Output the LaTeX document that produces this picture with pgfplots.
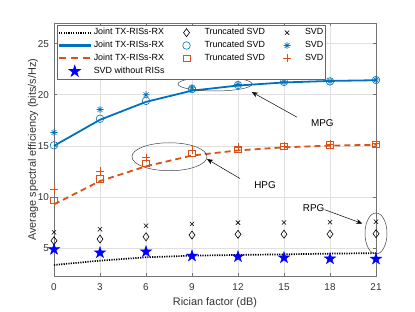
\documentclass[border=0pt]{standalone}
\usepackage{pgfplots}
\pgfplotsset{compat=1.18}
\usepackage{fontspec}
\setmainfont{Liberation Sans}
\usetikzlibrary{arrows.meta}
\definecolor{mblue}{rgb}{0,0.447,0.741}
\definecolor{morange}{rgb}{0.85,0.325,0.098}
\pgfdeclareplotmark{pentagram}{%
  \pgfpathmoveto{\pgfpointpolar{90}{\pgfplotmarksize}}%
  \pgfpathlineto{\pgfpointpolar{126}{0.382\pgfplotmarksize}}%
  \pgfpathlineto{\pgfpointpolar{162}{\pgfplotmarksize}}%
  \pgfpathlineto{\pgfpointpolar{198}{0.382\pgfplotmarksize}}%
  \pgfpathlineto{\pgfpointpolar{234}{\pgfplotmarksize}}%
  \pgfpathlineto{\pgfpointpolar{270}{0.382\pgfplotmarksize}}%
  \pgfpathlineto{\pgfpointpolar{306}{\pgfplotmarksize}}%
  \pgfpathlineto{\pgfpointpolar{342}{0.382\pgfplotmarksize}}%
  \pgfpathlineto{\pgfpointpolar{18}{\pgfplotmarksize}}%
  \pgfpathlineto{\pgfpointpolar{54}{0.382\pgfplotmarksize}}%
  \pgfpathclose\pgfusepathqfillstroke}
\pgfdeclareplotmark{ast8}{%
  \pgfpathmoveto{\pgfpoint{-\pgfplotmarksize}{0pt}}\pgfpathlineto{\pgfpoint{\pgfplotmarksize}{0pt}}%
  \pgfpathmoveto{\pgfpoint{0pt}{-\pgfplotmarksize}}\pgfpathlineto{\pgfpoint{0pt}{\pgfplotmarksize}}%
  \pgfpathmoveto{\pgfpoint{-.707\pgfplotmarksize}{-.707\pgfplotmarksize}}\pgfpathlineto{\pgfpoint{.707\pgfplotmarksize}{.707\pgfplotmarksize}}%
  \pgfpathmoveto{\pgfpoint{-.707\pgfplotmarksize}{.707\pgfplotmarksize}}\pgfpathlineto{\pgfpoint{.707\pgfplotmarksize}{-.707\pgfplotmarksize}}%
  \pgfusepathqstroke}
\pgfplotsset{
  linleg/.style n args={3}{legend image code/.code={\begin{pgfscope}\pgfsetlinewidth{#2}\pgfsetstrokecolor{#1}#3\pgfsetbuttcap
      \pgfpathmoveto{\pgfpoint{0bp}{0bp}}\pgfpathlineto{\pgfpoint{32bp}{0bp}}\pgfusepath{stroke}\end{pgfscope}}},
  mkleg/.style n args={4}{legend image code/.code={\begin{pgfscope}\pgfpathrectangle{\pgfpoint{0bp}{-2bp}}{\pgfpoint{32bp}{4bp}}\pgfusepath{}%
      \pgfsetlinewidth{0.6bp}\pgfsetstrokecolor{#1}\pgfsetcolor{#1}#4\pgfsetdash{}{0pt}\pgftransformshift{\pgfpoint{16bp}{0bp}}\pgfsetplotmarksize{#3}\pgfuseplotmark{#2}\end{pgfscope}}}}
\begin{document}
\begin{tikzpicture}
\begin{axis}[name=ax, scale only axis, width=322bp, height=252.5bp,
  xmin=0, xmax=21, ymin=2.26, ymax=26.97,
  xtick={0,3,...,21}, ytick={5,10,...,25},
  grid=major, grid style={black!12, line width=0.5bp},
  axis line style={black!55, line width=0.6bp},
  tick style={black!55, line width=0.5bp}, major tick length=3bp, tick align=inside,
  ticklabel style={font=\fontsize{9.9bp}{11bp}\selectfont, text=black!80},
  xticklabel style={yshift=-4bp},
  yticklabel style={xshift=-1.5bp},
  /pgf/number format/assume math mode=true,
  xlabel={Rician factor (dB)}, ylabel={Average spectral efficiency (bits/s/Hz)},
  label style={font=\fontsize{10.9bp}{12bp}\selectfont, text=black!80},
  ylabel shift=-7bp,
  clip=false,
  legend columns=3,
  legend style={at={(0,1)}, anchor=north west, xshift=2.5bp, yshift=-1.5bp,
    draw=black!60, fill=white, inner xsep=1bp, inner ysep=1bp,
    font=\fontsize{8.9bp}{10bp}\selectfont,
    nodes={text height=6.6bp, text depth=1.9bp, inner ysep=2.2bp, inner xsep=1bp, anchor=west},
    /tikz/every even column/.append style={column sep=5bp},
    /tikz/every odd column/.append style={column sep=1bp}},
]
\addplot[black, line width=1.7bp, dash pattern=on 1.2bp off 1.2bp, linleg={black}{1.8bp}{\pgfsetdash{{1.2bp}{1.2bp}}{0bp}}] coordinates {(0,3.34) (3,3.76) (6,4.09) (9,4.25) (12,4.32) (15,4.38) (18,4.45) (21,4.5)};
\addlegendentry{Joint TX-RISs-RX}
\addplot[black, only marks, mark=diamond, mark size=4bp, mark options={line width=0.6bp}, mkleg={black}{diamond}{4bp}{}] coordinates {(0,5.71) (3,5.88) (6,6.1) (9,6.27) (12,6.34) (15,6.35) (18,6.36) (21,6.4)};
\addlegendentry{Truncated SVD}
\addplot[black, only marks, mark=x, mark size=3bp, mark options={line width=0.6bp}, mkleg={black}{x}{3bp}{}] coordinates {(0,6.54) (3,6.83) (6,7.18) (9,7.35) (12,7.48) (15,7.5) (18,7.52) (21,7.57)};
\addlegendentry{SVD}
\addplot[mblue, line width=1.8bp, linleg={mblue}{2.1bp}{\pgfsetdash{}{0bp}}] coordinates {(0,15.0) (3,17.55) (6,19.3) (9,20.4) (12,20.9) (15,21.2) (18,21.35) (21,21.42)};
\addlegendentry{Joint TX-RISs-RX}
\addplot[mblue, only marks, mark=o, mark size=3.8bp, mark options={line width=0.6bp}, mkleg={mblue}{o}{3.8bp}{}] coordinates {(0,15.05) (3,17.65) (6,19.4) (9,20.55) (12,20.95) (15,21.25) (18,21.3) (21,21.44)};
\addlegendentry{Truncated SVD}
\addplot[mblue, only marks, mark=ast8, mark size=3.5bp, mark options={line width=0.6bp}, mkleg={mblue}{ast8}{3.5bp}{}] coordinates {(0,16.3) (3,18.55) (6,20.0) (9,20.7) (12,21.0) (15,21.27) (18,21.32) (21,21.45)};
\addlegendentry{SVD}
\addplot[morange, line width=1.8bp, dash pattern=on 6bp off 4bp, linleg={morange}{2.1bp}{\pgfsetdash{{7bp}{5bp}}{0bp}}] coordinates {(0,9.27) (3,11.55) (6,13.0) (9,14.05) (12,14.55) (15,14.85) (18,15.02) (21,15.1)};
\addlegendentry{Joint TX-RISs-RX}
\addplot[morange, only marks, mark=square, mark size=3.3bp, mark options={line width=0.6bp}, mkleg={morange}{square}{3.3bp}{}] coordinates {(0,9.65) (3,11.75) (6,13.3) (9,14.25) (12,14.65) (15,14.95) (18,15.12) (21,15.15)};
\addlegendentry{Truncated SVD}
\addplot[morange, only marks, mark=+, mark size=4bp, mark options={line width=0.6bp}, mkleg={morange}{+}{4bp}{}] coordinates {(0,10.75) (3,12.55) (6,13.85) (9,14.55) (12,14.85) (15,15.0) (18,15.15) (21,15.2)};
\addlegendentry{SVD}
\addplot[blue, only marks, mark=pentagram, mark size=6bp, mark options={fill=blue, line width=0.4bp}, mkleg={blue}{pentagram}{6bp}{\pgfsetfillcolor{blue}}] coordinates {(0,4.87) (3,4.54) (6,4.64) (9,4.22) (12,4.15) (15,4.05) (18,3.95) (21,3.92)};
\addlegendentry{SVD without RISs}
% annotations
\draw[black!75, line width=0.5bp] (axis cs:10.5,21.05) ellipse [x radius=37bp, y radius=7bp];
\draw[black!75, line width=0.5bp] (axis cs:7.53,13.93) ellipse [x radius=37.5bp, y radius=14bp];
\draw[black!75, line width=0.5bp] (axis cs:21,6.42) ellipse [x radius=11bp, y radius=20.5bp];
\draw[black, line width=0.5bp, -{Stealth[length=6bp,width=5bp]}] (axis cs:15.85,17.8) -- (axis cs:12.9,20.26);
\draw[black, line width=0.5bp, -{Stealth[length=6bp,width=5bp]}] (axis cs:12.13,11.8) -- (axis cs:9.98,13.7);
\draw[black, line width=0.5bp, -{Stealth[length=6bp,width=5bp]}] (axis cs:17.65,8.75) -- (axis cs:20.1,7.4);
\node[font=\fontsize{9.9bp}{11bp}\selectfont, anchor=west, inner sep=0pt] at (axis cs:16.75,17.2) {MPG};
\node[font=\fontsize{9.9bp}{11bp}\selectfont, anchor=west, inner sep=0pt] at (axis cs:13.05,11.2) {HPG};
\node[font=\fontsize{9.9bp}{11bp}\selectfont, anchor=east, inner sep=0pt] at (axis cs:17.65,8.9) {RPG};
\end{axis}
\pgfresetboundingbox
\useasboundingbox ([xshift=-54bp,yshift=-36bp]ax.south west) rectangle ([xshift=39bp,yshift=23.5bp]ax.north east);
\end{tikzpicture}
\end{document}
